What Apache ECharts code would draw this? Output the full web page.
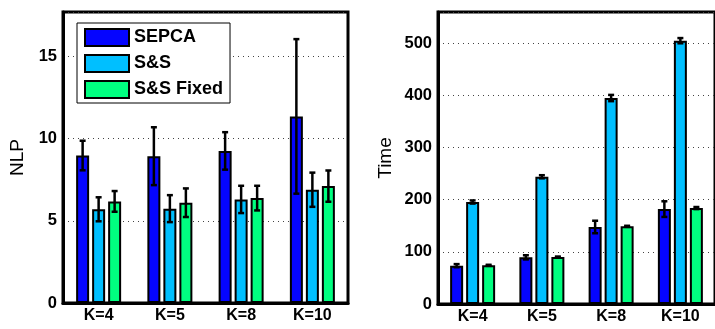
<!DOCTYPE html>
<html><head><meta charset="utf-8">
<script src="https://cdn.jsdelivr.net/npm/echarts@6/dist/echarts.min.js"></script>
<style>html,body{margin:0;padding:0;background:#fff}#c{width:715px;height:329px}</style>
</head><body><div id="c"></div>
<script>
const categories = ['K=4', 'K=5', 'K=8', 'K=10'];
const seriesNames = ['SEPCA', 'S&S', 'S&S Fixed'];
const colors = ['#0505ff', '#00bfff', '#00ff80'];

const nlpSepca = [8.97, 8.93, 9.25, 11.35];
const nlpSepcaErr = [0.9, 1.76, 1.14, 4.7];
const nlpSS = [5.70, 5.74, 6.30, 6.89];
const nlpSSErr = [0.73, 0.82, 0.83, 1.04];
const nlpFixed = [6.18, 6.10, 6.38, 7.11];
const nlpFixedErr = [0.63, 0.87, 0.75, 0.95];

const timeSepca = [73.5, 89.5, 147.7, 182];
const timeSepcaErr = [3, 4, 12, 15];
const timeSS = [195.6, 244, 395, 505];
const timeSSErr = [3, 3, 6, 5];
const timeFixed = [74.2, 90, 149, 184];
const timeFixedErr = [1, 1, 1, 2];

const nlpTicks = [0, 5, 10, 15];
const timeTicks = [0, 100, 200, 300, 400, 500];

const FONT = '"Liberation Sans", Arial, sans-serif';
const BAR_W = 13, STEP = 16;

function barSeries(name, vals, color, idx) {
  return {
    type: 'bar', name: name, xAxisIndex: idx, yAxisIndex: idx,
    data: vals, barWidth: BAR_W, barGap: ((STEP - BAR_W) / BAR_W * 100) + '%',
    itemStyle: { color: color, borderColor: '#000', borderWidth: 2 },
    emphasis: { disabled: true }, z: 2
  };
}
function errSeries(vals, errs, pos, idx) {
  return {
    type: 'custom', xAxisIndex: idx, yAxisIndex: idx, z: 5, silent: true,
    data: vals.map((v, i) => [i, v, errs[i]]),
    renderItem: function (params, api) {
      const i = api.value(0), v = api.value(1), e = api.value(2);
      const hi = api.coord([i, v + e]);
      const lo = api.coord([i, v - e]);
      const x = hi[0] + pos * STEP;
      const cw = 3;
      const st = { stroke: '#000', lineWidth: 2.5 };
      return {
        type: 'group', children: [
          { type: 'line', shape: { x1: x, y1: hi[1], x2: x, y2: lo[1] }, style: st },
          { type: 'line', shape: { x1: x - cw, y1: hi[1], x2: x + cw, y2: hi[1] }, style: st },
          { type: 'line', shape: { x1: x - cw, y1: lo[1], x2: x + cw, y2: lo[1] }, style: st }
        ]
      };
    }
  };
}
function yAxis(idx, max, interval, ticks, name, nameGap) {
  return {
    gridIndex: idx, type: 'value', min: 0, max: max, interval: interval,
    name: name, nameLocation: 'middle', nameGap: nameGap, nameRotate: 90,
    nameTextStyle: { fontFamily: FONT, fontSize: 19, color: '#000' },
    axisLine: { show: true, lineStyle: { color: '#000', width: 3 } },
    axisTick: { show: false },
    axisLabel: {
      fontFamily: FONT, fontSize: 16.5, fontWeight: 'bold', color: '#000', margin: 6,
      formatter: v => (ticks.indexOf(v) >= 0 ? String(v) : '')
    },
    splitLine: { show: true, lineStyle: { color: '#444', width: 1, type: [1, 4] } }
  };
}
function xAxis(idx) {
  return {
    gridIndex: idx, type: 'category', data: categories,
    axisLine: { lineStyle: { color: '#000', width: 3 } },
    axisTick: { show: false },
    axisLabel: { fontFamily: FONT, fontSize: 16, fontWeight: 'bold', color: '#000', margin: 5 }
  };
}

const chart = echarts.init(document.getElementById('c'), null, { renderer: 'canvas' });
chart.setOption({
  animation: false,
  backgroundColor: '#fff',
  grid: [
    { left: 63, width: 285, top: 12, bottom: 26, show: true, borderColor: '#000', borderWidth: 3 },
    { left: 438, width: 286, top: 12, bottom: 25, show: true, borderColor: '#000', borderWidth: 3 }
  ],
  legend: {
    data: seriesNames, orient: 'vertical', left: 77, top: 23,
    icon: 'rect',
    itemWidth: 44, itemHeight: 17, itemGap: 7,
    padding: [5, 7, 4, 7],
    borderColor: '#000', borderWidth: 1, backgroundColor: '#fff',
    textStyle: { fontFamily: FONT, fontSize: 18, fontWeight: 'bold', color: '#000' },
    itemStyle: { borderColor: '#000', borderWidth: 2 }
  },
  xAxis: [xAxis(0), xAxis(1)],
  yAxis: [
    yAxis(0, 17.7, 5, nlpTicks, 'NLP', 36),
    yAxis(1, 560, 100, timeTicks, 'Time', 43)
  ],
  series: [
    barSeries(seriesNames[0], nlpSepca, colors[0], 0),
    barSeries(seriesNames[1], nlpSS, colors[1], 0),
    barSeries(seriesNames[2], nlpFixed, colors[2], 0),
    errSeries(nlpSepca, nlpSepcaErr, -1, 0),
    errSeries(nlpSS, nlpSSErr, 0, 0),
    errSeries(nlpFixed, nlpFixedErr, 1, 0),
    barSeries(seriesNames[0], timeSepca, colors[0], 1),
    barSeries(seriesNames[1], timeSS, colors[1], 1),
    barSeries(seriesNames[2], timeFixed, colors[2], 1),
    errSeries(timeSepca, timeSepcaErr, -1, 1),
    errSeries(timeSS, timeSSErr, 0, 1),
    errSeries(timeFixed, timeFixedErr, 1, 1)
  ]
});
</script></body></html>
